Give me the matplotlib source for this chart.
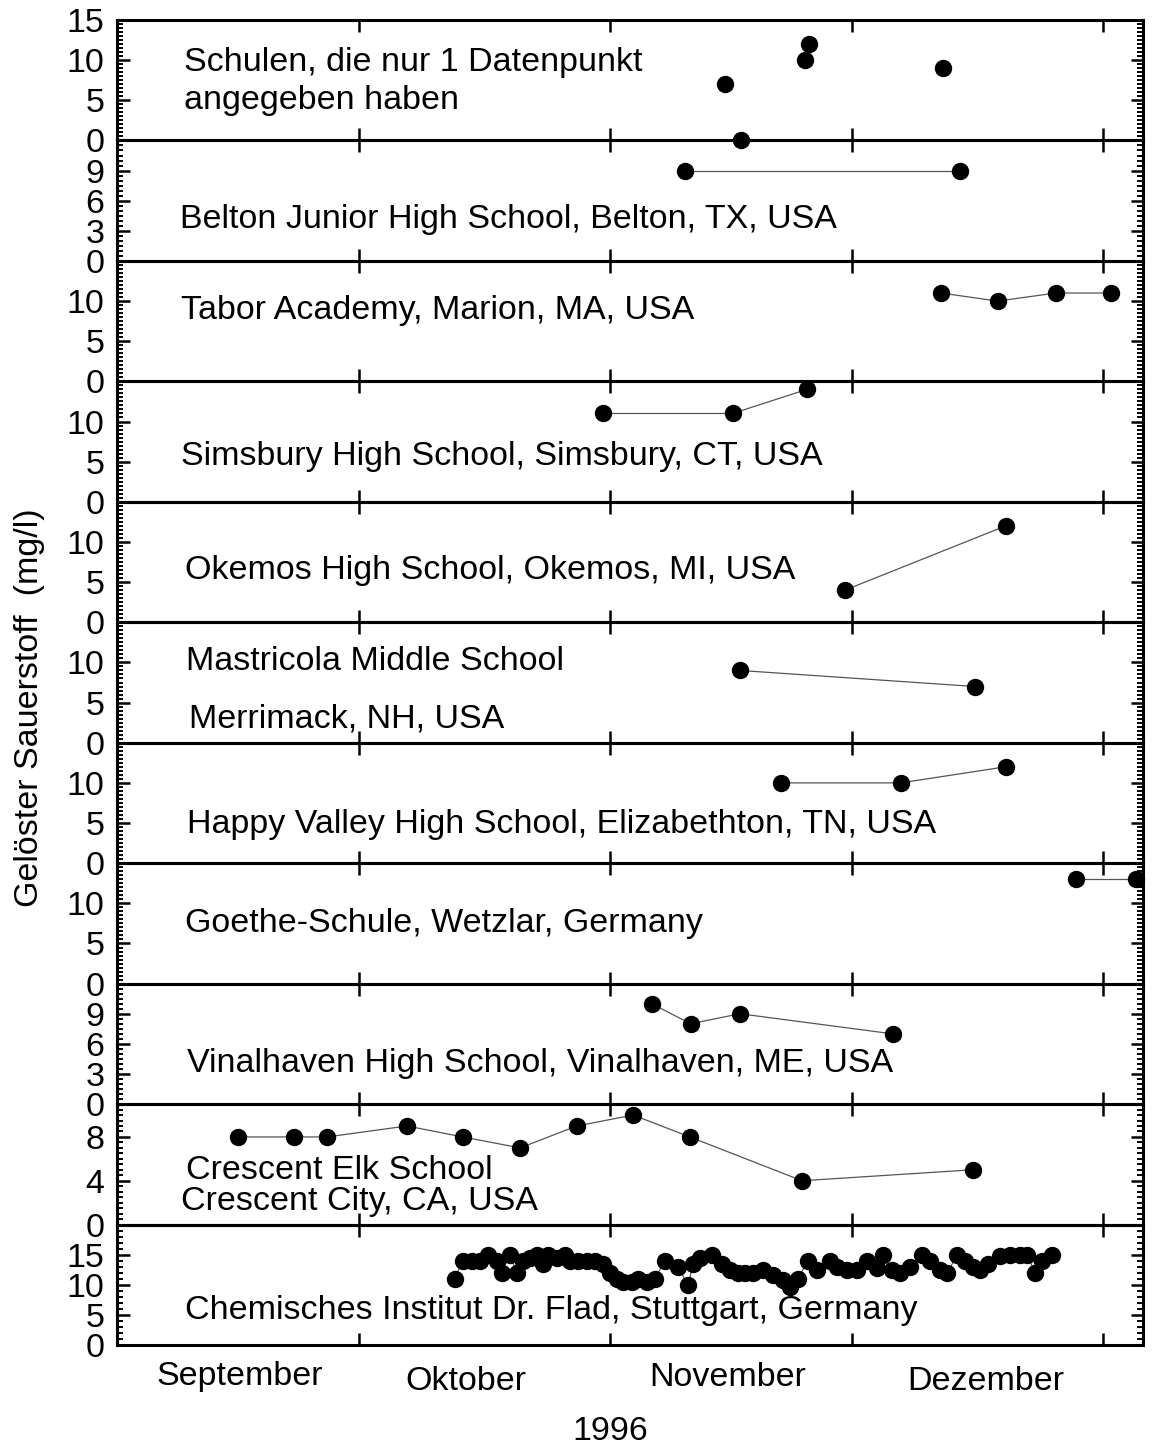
import matplotlib
matplotlib.use("Agg")
import matplotlib.pyplot as plt
from matplotlib.ticker import MultipleLocator, NullLocator

plt.rcParams['font.family'] = ['Liberation Sans', 'DejaVu Sans']

# Time axis: days counted from 1 September 1996
month_starts = [30, 61, 91, 122]
month_names = ["September", "Oktober", "November", "Dezember"]

# Schools with only one reported measurement
single_days = [75.2, 77.2, 85.1, 85.6, 102.2]
single_vals = [7, 0, 10, 12, 9]

belton_days = [70.3, 104.3]
belton_vals = [9, 9]

tabor_days = [102.0, 109.0, 116.2, 123.1]
tabor_vals = [11, 10, 11, 11]

simsbury_days = [60.1, 76.2, 85.4]
simsbury_vals = [11, 11, 14]

okemos_days = [90.1, 110.0]
okemos_vals = [4, 12]

mastricola_days = [77.1, 106.2]
mastricola_vals = [9, 7]

happy_days = [82.2, 97.0, 110.0]
happy_vals = [10, 10, 12]

goethe_days = [118.7, 126.1]
goethe_vals = [13, 13]

vinal_days = [66.2, 71.0, 77.1, 96.0]
vinal_vals = [10, 8, 9, 7]

crescent_days = [15.0, 21.9, 26.0, 35.9, 42.8, 49.9, 56.9, 63.9, 70.9, 84.8, 105.9]
crescent_vals = [8, 8, 8, 9, 8, 7, 9, 10, 8, 4, 5]

flad_days = [41.8, 42.8, 43.9, 44.9, 45.9, 47.0, 47.6, 48.6, 49.5, 50.2,
             51.1, 52.0, 52.7, 53.3, 54.5, 55.4, 56.1, 57.1, 58.2, 59.2,
             60.1, 61.0, 61.9, 62.6, 63.7, 64.5, 65.6, 66.6, 67.8, 69.4,
             70.7, 71.3, 72.2, 73.6, 74.9, 75.9, 76.9, 77.7, 78.7, 80.0,
             81.2, 82.4, 83.3, 84.3, 85.5, 86.6, 88.2, 89.1, 90.3, 91.6,
             92.8, 94.1, 94.8, 95.9, 96.9, 98.1, 99.6, 100.6, 101.9, 102.8,
             104.0, 105.0, 105.9, 106.8, 107.8, 109.3, 110.5, 111.8, 112.7, 113.6,
             114.5, 115.7]
flad_vals = [11, 14, 14, 14, 15, 14, 12, 15, 12, 14,
             14.5, 15, 13.5, 15, 14.5, 15, 14, 14, 14, 14,
             13.5, 12, 11, 10.5, 10.5, 11, 10.5, 11, 14, 13,
             10, 13.5, 14.5, 15, 13.5, 12.5, 12, 12, 12, 12.5,
             11.7, 10.8, 9.7, 11, 14, 12.5, 14, 13, 12.5, 12.5,
             14, 12.8, 15, 12.5, 12, 13, 15, 14, 12.5, 12,
             15, 14, 13, 12.5, 13.5, 14.7, 15, 15, 15, 12,
             14, 15]

# name lines, label baseline positions (axes fraction), data, y-range, major ticks, minor step, connected
panels = [
    (["Schulen, die nur 1 Datenpunkt", "angegeben haben"], 0.065, [0.577, 0.262],
     single_days, single_vals, (0, 15), [0, 5, 10, 15], 0.5, False),
    (["Belton Junior High School, Belton, TX, USA"], 0.061, [0.274],
     belton_days, belton_vals, (0, 12), [0, 3, 6, 9], 0.5, True),
    (["Tabor Academy, Marion, MA, USA"], 0.062, [0.518],
     tabor_days, tabor_vals, (0, 15), [0, 5, 10], 0.5, True),
    (["Simsbury High School, Simsbury, CT, USA"], 0.062, [0.306],
     simsbury_days, simsbury_vals, (0, 15), [0, 5, 10], 0.5, True),
    (["Okemos High School, Okemos, MI, USA"], 0.066, [0.359],
     okemos_days, okemos_vals, (0, 15), [0, 5, 10], 0.5, True),
    (["Mastricola Middle School", "Merrimack, NH, USA"], [0.067, 0.070], [0.604, 0.130],
     mastricola_days, mastricola_vals, (0, 15), [0, 5, 10], 0.5, True),
    (["Happy Valley High School, Elizabethton, TN, USA"], 0.068, [0.251],
     happy_days, happy_vals, (0, 15), [0, 5, 10], 0.5, True),
    (["Goethe-Schule, Wetzlar, Germany"], 0.066, [0.429],
     goethe_days, goethe_vals, (0, 15), [0, 5, 10], 0.5, True),
    (["Vinalhaven High School, Vinalhaven, ME, USA"], 0.068, [0.266],
     vinal_days, vinal_vals, (0, 12), [0, 3, 6, 9], 0.5, True),
    (["Crescent Elk School", "Crescent City, CA, USA"], [0.067, 0.062], [0.378, 0.120],
     crescent_days, crescent_vals, (0, 11), [0, 4, 8], 0.5, True),
    (["Chemisches Institut Dr. Flad, Stuttgart, Germany"], 0.066, [0.216],
     flad_days, flad_vals, (0, 20), [0, 5, 10, 15], 1, True),
]

W, H = 1153, 1448
fig, axes = plt.subplots(
    len(panels), 1, figsize=(W / 100, H / 100), dpi=100, sharex=True,
    gridspec_kw=dict(hspace=0, left=117 / W, right=1143 / W,
                     top=1 - 20 / H, bottom=1 - 1345 / H))

FS = 24.5
for ax, (names, tx, tys, days, vals, ylim, yticks, minor, connect) in zip(axes, panels):
    ax.patch.set_visible(False)
    if connect:
        ax.plot(days, vals, '-', color='#555555', lw=0.9, zorder=2)
    ax.plot(days, vals, 'o', color='black', ms=11.5, mec='black',
            zorder=4, clip_on=False)
    ax.set_xlim(0, 127)
    ax.set_ylim(*ylim)
    ax.set_yticks(yticks)
    ax.yaxis.set_minor_locator(MultipleLocator(minor))
    ax.set_xticks(month_starts)
    ax.xaxis.set_minor_locator(NullLocator())
    ax.tick_params(axis='y', which='both', direction='in', left=True, right=True,
                   labelsize=FS, pad=9)
    ax.tick_params(axis='y', which='major', length=9, width=1.8)
    ax.tick_params(axis='y', which='minor', length=4.5, width=1.4)
    ax.tick_params(axis='x', which='major', direction='in', top=True, bottom=True,
                   length=8.5, width=1.8, labelbottom=False)
    for sp in ax.spines.values():
        sp.set_linewidth(2.2)
    xs = tx if isinstance(tx, list) else [tx] * len(names)
    for name, x, y in zip(names, xs, tys):
        ax.text(x, y, name, transform=ax.transAxes, fontsize=FS,
                ha='left', va='baseline')

# Month names centred within each month, and the year below
month_pos = [(240, 1376), (466, 1381), (728, 1377), (986, 1381)]
for name, (px, py) in zip(month_names, month_pos):
    fig.text(px / W, 1 - py / H, name, fontsize=FS, ha='center', va='center')
fig.text(610 / W, 1 - 1432 / H, "1996", fontsize=FS, ha='center', va='center')

fig.text(30 / W, 1 - 708 / H, "Gelöster Sauerstoff  (mg/l)", fontsize=FS,
         rotation=90, ha='center', va='center')

fig.savefig("out.png", dpi=100)
